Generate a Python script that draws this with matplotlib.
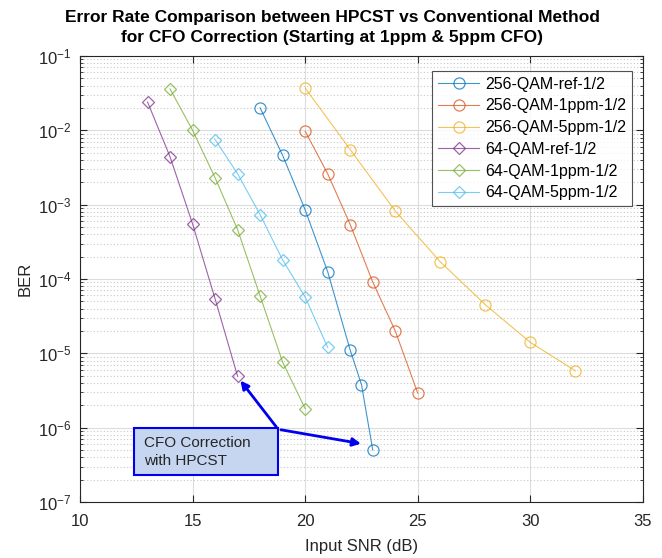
import matplotlib
matplotlib.use("Agg")
import matplotlib.pyplot as plt
from matplotlib.ticker import NullFormatter
from matplotlib.patches import Rectangle, FancyArrowPatch

# data
snr_256_ref = [18, 19, 20, 21, 22, 22.5, 23]
ber_256_ref = [2.0e-2, 4.6e-3, 8.5e-4, 1.25e-4, 1.1e-5, 3.8e-6, 5.0e-7]
snr_256_1ppm = [20, 21, 22, 23, 24, 25]
ber_256_1ppm = [9.7e-3, 2.6e-3, 5.4e-4, 9.1e-5, 2.0e-5, 2.9e-6]
snr_256_5ppm = [20, 22, 24, 26, 28, 30, 32]
ber_256_5ppm = [3.7e-2, 5.5e-3, 8.2e-4, 1.7e-4, 4.5e-5, 1.4e-5, 5.8e-6]
snr_64_ref = [13, 14, 15, 16, 17]
ber_64_ref = [2.4e-2, 4.4e-3, 5.5e-4, 5.4e-5, 4.9e-6]
snr_64_1ppm = [14, 15, 16, 17, 18, 19, 20]
ber_64_1ppm = [3.6e-2, 1.0e-2, 2.3e-3, 4.6e-4, 5.9e-5, 7.6e-6, 1.8e-6]
snr_64_5ppm = [16, 17, 18, 19, 20, 21]
ber_64_5ppm = [7.5e-3, 2.6e-3, 7.3e-4, 1.8e-4, 5.7e-5, 1.2e-5]

series = [
    (snr_256_ref, ber_256_ref, '256-QAM-ref-1/2', '#0072BD', 'o'),
    (snr_256_1ppm, ber_256_1ppm, '256-QAM-1ppm-1/2', '#D95319', 'o'),
    (snr_256_5ppm, ber_256_5ppm, '256-QAM-5ppm-1/2', '#EDB120', 'o'),
    (snr_64_ref, ber_64_ref, '64-QAM-ref-1/2', '#7E2F8E', 'D'),
    (snr_64_1ppm, ber_64_1ppm, '64-QAM-1ppm-1/2', '#77AC30', 'D'),
    (snr_64_5ppm, ber_64_5ppm, '64-QAM-5ppm-1/2', '#4DBEEE', 'D'),
]

plt.rcParams['font.family'] = ['Liberation Sans', 'DejaVu Sans']

fig = plt.figure(figsize=(6.62, 5.58), dpi=100)
ax = fig.add_axes([0.1208, 0.1004, 0.8505, 0.7993])

for x, y, lab, c, m in series:
    ms = 8 if m == 'o' else 6.5
    ax.plot(x, y, color=c, marker=m, markerfacecolor='none', markersize=ms,
            linewidth=0.8, markeredgewidth=0.9, alpha=0.75, label=lab)

ax.set_yscale('log')
ax.set_xlim(10, 35)
ax.set_ylim(1e-7, 1e-1)
ax.set_xticks([10, 15, 20, 25, 30, 35])
# only ticks inside the view, so no hidden label sits off the figure
decades = [10.0 ** e for e in range(-7, 0)]
ax.set_yticks(decades)
ax.set_yticks([k * d for d in decades[:-1] for k in range(2, 10)], minor=True)
ax.yaxis.set_minor_formatter(NullFormatter())

ax.grid(True, which='major', color='#dcdcdc', linewidth=0.8, linestyle='-')
ax.grid(True, which='minor', axis='y', color='#c8c8c8', linewidth=0.8, linestyle=(0, (1, 2)))
ax.set_axisbelow(True)
ax.tick_params(which='both', direction='in', top=True, right=True, colors='#262626', labelsize=12)
ax.tick_params(which='major', length=5)
ax.tick_params(which='minor', length=2.5)
ax.tick_params(axis='x', pad=9)
ax.tick_params(axis='y', pad=6)
for s in ax.spines.values():
    s.set_color('#262626')
    s.set_linewidth(0.8)

ax.set_xlabel('Input SNR (dB)', fontsize=12, color='#262626', labelpad=7)
ax.set_ylabel('BER', fontsize=12, color='#262626')

leg = ax.legend(loc='upper right', bbox_to_anchor=(0.981, 0.966), fontsize=11.5,
                frameon=True, fancybox=False, edgecolor='#262626', handlelength=2.6,
                borderpad=0.35, labelspacing=0.42, handletextpad=0.4, borderaxespad=0)
leg.get_frame().set_linewidth(0.8)

fig.text(0.502, 0.951, 'Error Rate Comparison between HPCST vs Conventional Method\n'
         'for CFO Correction (Starting at 1ppm & 5ppm CFO)',
         ha='center', va='center', fontsize=12.5, fontweight='bold', linespacing=1.4)

# annotation box with arrows
box = Rectangle((0.096, 0.0605), 0.256, 0.1055, transform=ax.transAxes,
                facecolor='#c6d6f0', edgecolor='#0000EE', linewidth=1.5, zorder=5)
ax.add_patch(box)
ax.text(0.113, 0.113, 'CFO Correction\nwith HPCST', transform=ax.transAxes,
        fontsize=11, va='center', ha='left', color='#262626', linespacing=1.35, zorder=6)
src = (18.8, 9.5e-7)
for tip in [(17.05, 4.6e-6), (22.6, 6.0e-7)]:
    arr = FancyArrowPatch(src, tip, arrowstyle='-|>', color='#0000EE', lw=2,
                          mutation_scale=12, zorder=6)
    ax.add_patch(arr)

fig.savefig('out.png', dpi=100)
